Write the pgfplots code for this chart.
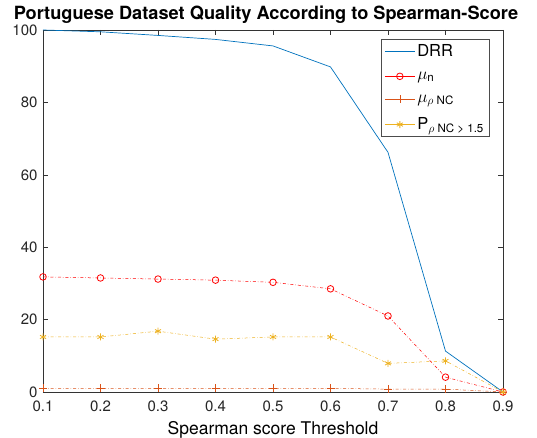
\documentclass[border=0pt]{standalone}
\usepackage{pgfplots}
\pgfplotsset{compat=1.18}
\usepackage{fontspec}
\setmainfont{TeX Gyre Heros}
\definecolor{mblue}{rgb}{0,0.447,0.741}
\definecolor{mred}{rgb}{1,0,0}
\definecolor{morange}{rgb}{0.85,0.325,0.098}
\definecolor{myellow}{rgb}{0.929,0.694,0.125}
\begin{document}
\begin{tikzpicture}
\begin{axis}[
  scale only axis,
  width=460pt, height=362pt,
  xmin=0.1, xmax=0.9, ymin=0, ymax=100,
  xtick={0.1,0.2,...,0.9},
  ytick={0,20,40,60,80,100},
  xticklabels={0.1,0.2,0.3,0.4,0.5,0.6,0.7,0.8,0.9},
  tick align=inside,
  major tick length=5pt,
  tick style={black!80, line width=0.5pt},
  axis line style={black!80, line width=0.6pt},
  /pgf/number format/assume math mode=true,
  tick label style={font=\fontsize{15}{16}\selectfont, color=black!85},
  xticklabel style={yshift=-5pt},
  yticklabel style={xshift=-2pt},
  title={\bfseries Portuguese Dataset Quality According to Spearman-Score},
  title style={font=\fontsize{18.2}{20}\selectfont, yshift=-3pt, xshift=-7pt},
  xlabel={Spearman score Threshold},
  xlabel style={font=\fontsize{17.5}{19}\selectfont, yshift=-3pt},
  legend style={at={(rel axis cs:0.97,0.975)}, anchor=north east,
    font=\fontsize{16.5}{18}\selectfont, draw=black!70, line width=0.6pt,
    row sep=10pt, inner sep=3pt},
  legend cell align=left,
  legend image code/.code={\draw[mark repeat=2,mark phase=2,#1,solid] plot coordinates {(0cm,0cm) (0.53cm,0cm) (1.06cm,0cm)};},
]
\addplot[color=mblue, draw=mblue, line width=0.7pt] coordinates {
(0.1,100) (0.2,99.5) (0.3,98.5) (0.4,97.4) (0.5,95.6) (0.6,89.8) (0.7,66.2) (0.8,11.3) (0.9,0)};
\addlegendentry{DRR}
\addplot[color=mred, draw=mred, line width=0.5pt, dash dot, mark=o, mark size=3.3pt, mark options={solid, line width=0.8pt}] coordinates {
(0.1,31.8) (0.2,31.5) (0.3,31.2) (0.4,30.9) (0.5,30.3) (0.6,28.5) (0.7,21.0) (0.8,4.1) (0.9,0)};
\addlegendentry{$\mu$\textsubscript{n}}
\addplot[color=morange, draw=morange, line width=0.5pt, dash dot, mark=+, mark size=4pt, mark options={solid, line width=0.7pt}] coordinates {
(0.1,1.0) (0.2,1.0) (0.3,1.0) (0.4,1.0) (0.5,1.0) (0.6,1.0) (0.7,0.8) (0.8,0.8) (0.9,0)};
\addlegendentry{$\mu$\textsubscript{$\rho$ NC}}
\addplot[color=myellow, draw=myellow, line width=0.5pt, dash dot, mark=asterisk, mark size=3.5pt, mark options={solid, line width=0.8pt}] coordinates {
(0.1,15.2) (0.2,15.2) (0.3,16.8) (0.4,14.6) (0.5,15.2) (0.6,15.2) (0.7,7.9) (0.8,8.6) (0.9,0)};
\addlegendentry{P\textsubscript{$\rho$ NC > 1.5}}
\end{axis}
\pgfresetboundingbox
\useasboundingbox ([shift={(-43pt,-46pt)}]current axis.south west) rectangle ([shift={(34pt,30pt)}]current axis.north east);
\end{tikzpicture}
\end{document}
